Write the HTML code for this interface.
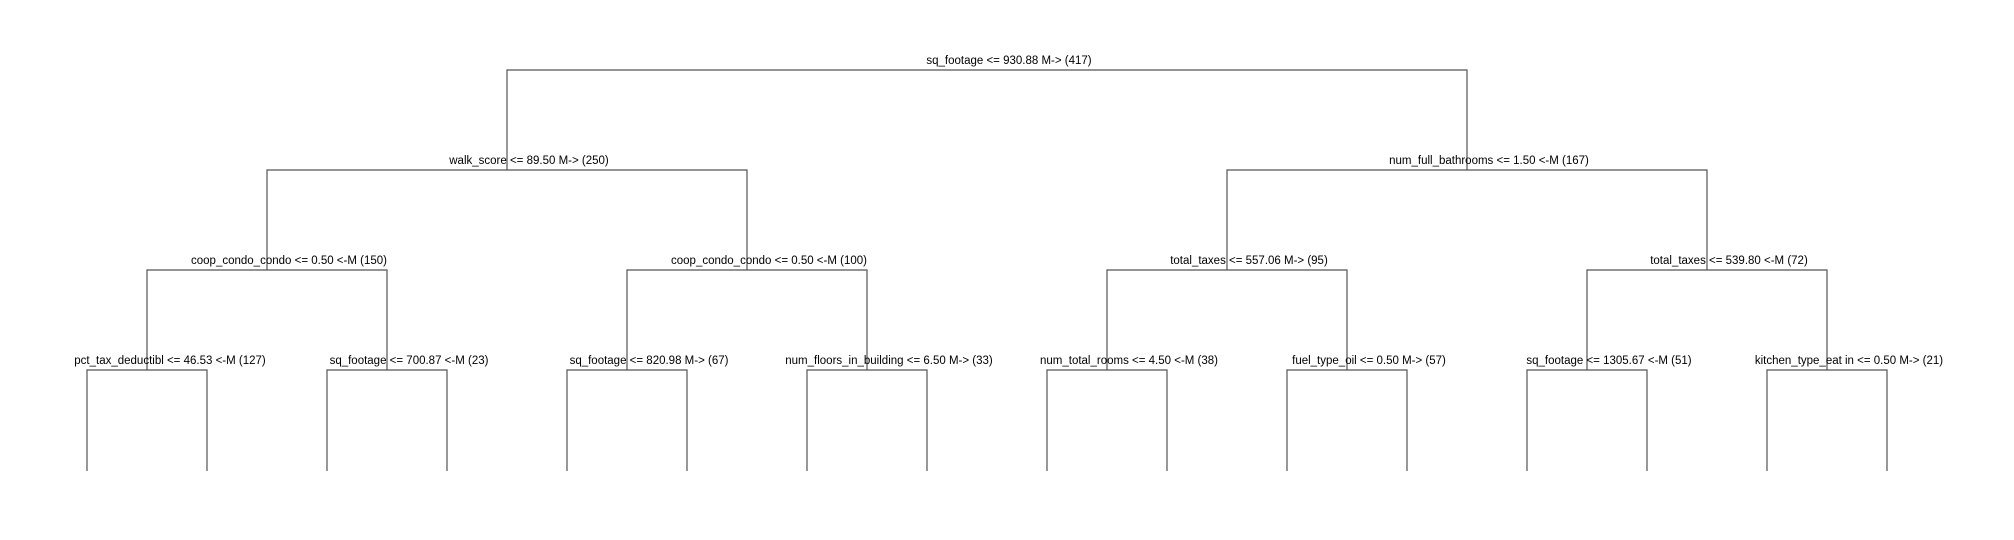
<!DOCTYPE html>
<html><head><meta charset="utf-8"><style>html,body{margin:0;padding:0;background:#fff;}svg{display:block}</style></head>
<body>
<svg width="2014" height="540" xmlns="http://www.w3.org/2000/svg">
<g stroke="#555" stroke-width="1.2" fill="none">
<path d="M507,170 V70 H1467 V170"/>
<path d="M267,270 V170 H747 V270"/>
<path d="M1227,270 V170 H1707 V270"/>
<path d="M147,370 V270 H387 V370"/>
<path d="M627,370 V270 H867 V370"/>
<path d="M1107,370 V270 H1347 V370"/>
<path d="M1587,370 V270 H1827 V370"/>
<path d="M87,471 V370 H207 V471"/>
<path d="M327,471 V370 H447 V471"/>
<path d="M567,471 V370 H687 V471"/>
<path d="M807,471 V370 H927 V471"/>
<path d="M1047,471 V370 H1167 V471"/>
<path d="M1287,471 V370 H1407 V471"/>
<path d="M1527,471 V370 H1647 V471"/>
<path d="M1767,471 V370 H1887 V471"/>
</g>
<g font-family="Liberation Sans, sans-serif" font-size="11.5" fill="#000" text-anchor="middle">
<text x="1009" y="64">sq_footage &lt;= 930.88 M-&gt; (417)</text>
<text x="529" y="164">walk_score &lt;= 89.50 M-&gt; (250)</text>
<text x="1489" y="164">num_full_bathrooms &lt;= 1.50 &lt;-M (167)</text>
<text x="289" y="264">coop_condo_condo &lt;= 0.50 &lt;-M (150)</text>
<text x="769" y="264">coop_condo_condo &lt;= 0.50 &lt;-M (100)</text>
<text x="1249" y="264">total_taxes &lt;= 557.06 M-&gt; (95)</text>
<text x="1729" y="264">total_taxes &lt;= 539.80 &lt;-M (72)</text>
<text x="170" y="364">pct_tax_deductibl &lt;= 46.53 &lt;-M (127)</text>
<text x="409" y="364">sq_footage &lt;= 700.87 &lt;-M (23)</text>
<text x="649" y="364">sq_footage &lt;= 820.98 M-&gt; (67)</text>
<text x="889" y="364">num_floors_in_building &lt;= 6.50 M-&gt; (33)</text>
<text x="1129" y="364">num_total_rooms &lt;= 4.50 &lt;-M (38)</text>
<text x="1369" y="364">fuel_type_oil &lt;= 0.50 M-&gt; (57)</text>
<text x="1609" y="364">sq_footage &lt;= 1305.67 &lt;-M (51)</text>
<text x="1849" y="364">kitchen_type_eat in &lt;= 0.50 M-&gt; (21)</text>
</g>
</svg>
</body></html>
